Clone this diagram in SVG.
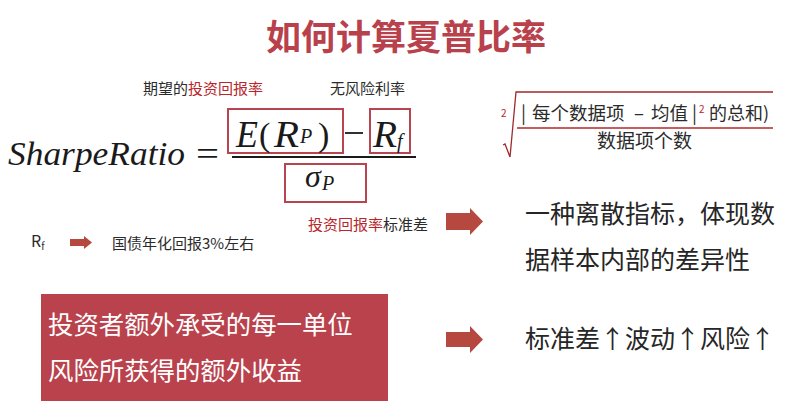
<svg xmlns="http://www.w3.org/2000/svg" width="800" height="416" viewBox="0 0 800 416">
  <style>
    .cjk { font-family: "Noto Sans CJK SC", "Noto Sans", "Liberation Sans", sans-serif; }
    .dark { fill: #2b2b2b; }
    .red { fill: #b8262c; }
    .title { font-size: 35px; font-weight: 700; fill: #b8414b; }
    .label { font-size: 15px; }
    .big { font-size: 25px; fill: #262626; }
    .math { font-family: "Liberation Serif", "DejaVu Serif", serif; font-style: italic; fill: #1a1a1a; }
    .upright { font-style: normal; }
    .frame { fill: none; stroke: #b84450; stroke-width: 2; }
    .arrow { fill: #b5493f; }
    .rad { fill: none; stroke: #9e2a2b; stroke-width: 1.3; }
  </style>

  <rect width="800" height="416" fill="#ffffff"/>

  <!-- heading -->
  <g id="title">
    <text class="cjk title" x="406" y="50" text-anchor="middle">如何计算夏普比率</text>
  </g>

  <!-- Sharpe ratio formula -->
  <g id="formula">
    <text class="math" x="8" y="165" font-size="34" textLength="177" lengthAdjust="spacingAndGlyphs">SharpeRatio</text>
    <text class="math upright" x="196" y="165" font-size="34" textLength="23" lengthAdjust="spacingAndGlyphs">=</text>

    <rect class="frame" x="228" y="109" width="115" height="44"/>
    <rect class="frame" x="370" y="109" width="40" height="44"/>
    <rect class="frame" x="285" y="164" width="81" height="38"/>

    <text class="math" x="236" y="147" font-size="37" textLength="22" lengthAdjust="spacingAndGlyphs">E</text>
    <text class="math upright" x="259" y="146" font-size="34">(</text>
    <text class="math" x="274" y="147" font-size="37" textLength="25" lengthAdjust="spacingAndGlyphs">R</text>
    <text class="math" x="300" y="143" font-size="20">P</text>
    <text class="math upright" x="318" y="146" font-size="34">)</text>
    <line x1="345" y1="133" x2="363" y2="133" stroke="#1a1a1a" stroke-width="1.8"/>
    <text class="math" x="373" y="147" font-size="37" textLength="24" lengthAdjust="spacingAndGlyphs">R</text>
    <text class="math" x="397" y="148" font-size="20">f</text>

    <line x1="232" y1="157" x2="416" y2="157" stroke="#1a1a1a" stroke-width="2.2"/>

    <text class="math" x="305" y="187" font-size="32">σ</text>
    <text class="math" x="322" y="190" font-size="20">P</text>
  </g>

  <!-- captions around the formula -->
  <g id="labels">
    <text class="cjk label dark" x="143" y="94">期望的<tspan class="red">投资回报率</tspan></text>
    <text class="cjk label dark" x="330" y="94">无风险利率</text>
    <text class="cjk label red" x="308" y="230">投资回报率<tspan class="dark">标准差</tspan></text>
  </g>

  <!-- standard deviation root -->
  <g id="std-root">
    <text class="cjk red" x="501" y="117" font-size="10">2</text>
    <path class="rad" d="M503,145 L505,144 L510,157 L516,92 L773,92"/>
    <line x1="517" y1="128" x2="773" y2="128" stroke="#b02a2a" stroke-width="1.5"/>
    <text class="cjk dark" y="120" font-size="18.5"><tspan x="521">|</tspan><tspan x="532">每个数据项</tspan><tspan x="634">–</tspan><tspan x="651">均值</tspan><tspan x="692">|</tspan></text>
    <text class="cjk red" x="699" y="113" font-size="10">2</text>
    <text class="cjk dark" x="709" y="120" font-size="18">的总和)</text>
    <text class="cjk dark" x="597" y="148" font-size="19">数据项个数</text>
  </g>

  <!-- risk-free note -->
  <g id="rf-note">
    <text class="cjk dark" x="31" y="247" font-size="16">R<tspan font-size="10" dy="3">f</tspan></text>
    <text class="cjk label dark" x="112" y="249">国债年化回报3%左右</text>
  </g>

  <!-- explanatory text on the right -->
  <g id="dispersion-note">
    <text class="cjk big" x="525" y="223">一种离散指标，体现数</text>
    <text class="cjk big" x="525" y="269">据样本内部的差异性</text>
  </g>

  <g id="meaning-box">
    <rect x="41" y="294" width="347" height="107" fill="#b9424c"/>
    <text class="cjk" x="48" y="334" font-size="25.4" fill="#ffffff">投资者额外承受的每一单位</text>
    <text class="cjk" x="48" y="380" font-size="25.4" fill="#ffffff">风险所获得的额外收益</text>
  </g>

  <g id="risk-note">
    <text class="cjk big" x="525" y="348">标准差↑波动↑风险↑</text>
  </g>

  <!-- block arrows -->
  <g id="connectors">
    <path class="arrow" d="M70,239 H84 V236 L92,242.5 L84,249 V246 H70 Z"/>
    <path class="arrow" d="M446,213 H470 V208 L483,221.5 L470,235 V230 H446 Z"/>
    <path class="arrow" d="M446,332 H470 V326 L483,339.5 L470,353 V347 H446 Z"/>
  </g>
</svg>
